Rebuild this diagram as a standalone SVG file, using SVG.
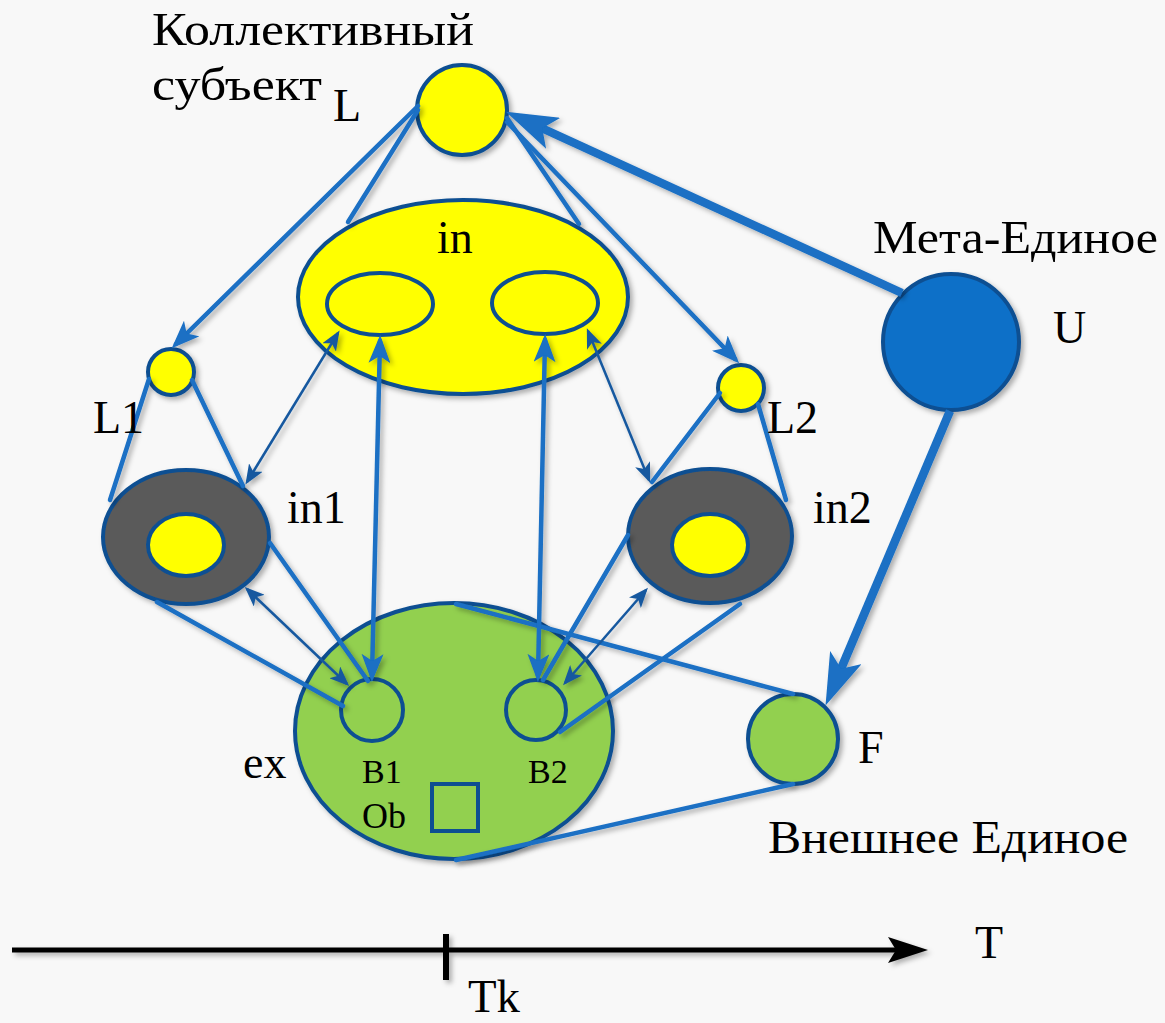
<svg xmlns="http://www.w3.org/2000/svg" width="1165" height="1023" viewBox="0 0 1165 1023">
<defs>
<filter id="sh" x="-20%" y="-20%" width="140%" height="140%">
<feDropShadow dx="3" dy="3" stdDeviation="2.5" flood-color="#000" flood-opacity="0.3"/>
</filter>
<marker id="am" markerUnits="userSpaceOnUse" markerWidth="28" markerHeight="22" refX="22" refY="11" orient="auto-start-reverse" viewBox="0 0 28 22">
<path d="M0,0 L28,11 L0,22 L7,11 z" fill="#1a6fc4"/>
</marker>
<marker id="at" markerUnits="userSpaceOnUse" markerWidth="20" markerHeight="16" refX="17" refY="8" orient="auto-start-reverse" viewBox="0 0 20 16">
<path d="M0,0 L20,8 L0,16 L5,8 z" fill="#15589f"/>
</marker>
<marker id="ak" markerUnits="userSpaceOnUse" markerWidth="52" markerHeight="34" refX="20" refY="17" orient="auto" viewBox="0 0 52 34">
<path d="M0,0 L52,17 L0,34 L12,17 z" fill="#1a6fc4"/>
</marker>
<marker id="ab" markerUnits="userSpaceOnUse" markerWidth="40" markerHeight="26" refX="30" refY="13" orient="auto" viewBox="0 0 40 26">
<path d="M0,0 L40,13 L0,26 L8,13 z" fill="#000"/>
</marker>
</defs>
<style>
.nd{stroke:#0f4f92;stroke-width:4}
.y{fill:#ffff00}
.g{fill:#92d050}
.d{fill:#5a5a5a}
.c{stroke:#1a6fc4;stroke-width:4.5;fill:none;stroke-linecap:round}
.t{stroke:#15589f;stroke-width:2.5;fill:none}
.k{stroke:#1a6fc4;stroke-width:8.5;fill:none}
.lb{font-family:"Liberation Serif","Times New Roman",serif;font-size:46px;fill:#000}
.sm{font-size:34px}
</style>
<rect width="1165" height="1023" fill="#f8f8f8"/>

<g id="node-L" filter="url(#sh)"><circle cx="462" cy="110" r="45" class="nd y"/></g>
<g id="node-in" filter="url(#sh)">
<ellipse cx="463" cy="297" rx="165" ry="97" class="nd y"/>
<ellipse cx="380" cy="304" rx="53" ry="31" class="nd y"/>
<ellipse cx="545" cy="303" rx="53" ry="31" class="nd y"/>
</g>
<g id="node-L1" filter="url(#sh)"><circle cx="171" cy="372" r="23" class="nd y"/></g>
<g id="node-L2" filter="url(#sh)"><circle cx="741" cy="388" r="23" class="nd y"/></g>
<g id="node-in1" filter="url(#sh)">
<ellipse cx="186" cy="537" rx="83" ry="67" class="nd d"/>
<ellipse cx="186" cy="545" rx="38" ry="31" class="nd y"/>
</g>
<g id="node-in2" filter="url(#sh)">
<ellipse cx="710" cy="536" rx="82" ry="67" class="nd d"/>
<ellipse cx="710" cy="545" rx="38" ry="31" class="nd y"/>
</g>
<g id="node-U" filter="url(#sh)"><circle cx="951" cy="342" r="68" fill="#1170c8" stroke="#0f4f92" stroke-width="4"/></g>
<g id="node-ex" filter="url(#sh)">
<ellipse cx="454" cy="731" rx="159" ry="128" class="nd g"/>
<circle cx="372" cy="710" r="31" class="nd g"/>
<circle cx="536" cy="710" r="30" class="nd g"/>
<rect x="432" y="784" width="46" height="47" fill="none" stroke="#0f4f92" stroke-width="4"/>
</g>
<g id="node-F" filter="url(#sh)"><circle cx="793" cy="739" r="45" class="nd g"/></g>

<g id="connectors" filter="url(#sh)">
<line x1="418" y1="106" x2="176" y2="344" class="c" marker-end="url(#am)"/>
<line x1="418" y1="110" x2="348" y2="222" class="c"/>
<line x1="507" y1="122" x2="735" y2="359" class="c" marker-end="url(#am)"/>
<line x1="507" y1="118" x2="579" y2="224" class="c"/>
<line x1="149" y1="379" x2="110" y2="500" class="c"/>
<line x1="192" y1="380" x2="243" y2="486" class="c"/>
<line x1="720" y1="393" x2="652" y2="482" class="c"/>
<line x1="758" y1="404" x2="786" y2="500" class="c"/>
<line x1="157" y1="602" x2="343" y2="706" class="c"/>
<line x1="270" y1="543" x2="368" y2="681" class="c"/>
<line x1="628" y1="535" x2="543" y2="680" class="c"/>
<line x1="740" y1="604" x2="560" y2="732" class="c"/>
<line x1="456" y1="604" x2="793" y2="694" class="c"/>
<line x1="456" y1="860" x2="793" y2="784" class="c"/>
<line x1="380" y1="341" x2="372" y2="676" class="c" marker-start="url(#am)" marker-end="url(#am)"/>
<line x1="545" y1="340" x2="538" y2="676" class="c" marker-start="url(#am)" marker-end="url(#am)"/>
<line x1="338" y1="333" x2="247" y2="482" class="t" marker-start="url(#at)" marker-end="url(#at)"/>
<line x1="588" y1="331" x2="649" y2="480" class="t" marker-start="url(#at)" marker-end="url(#at)"/>
<line x1="247" y1="589" x2="347" y2="684" class="t" marker-start="url(#at)" marker-end="url(#at)"/>
<line x1="646" y1="590" x2="565" y2="683" class="t" marker-start="url(#at)" marker-end="url(#at)"/>
<line x1="902" y1="293" x2="535" y2="125" class="k" marker-end="url(#ak)"/>
<line x1="950" y1="411" x2="838" y2="676" class="k" marker-end="url(#ak)"/>
</g>

<g id="timeline" filter="url(#sh)">
<line x1="12" y1="950" x2="918" y2="950" stroke="#000" stroke-width="5" marker-end="url(#ab)"/>
<line x1="446" y1="934" x2="446" y2="980" stroke="#000" stroke-width="6"/>
</g>

<g id="labels">
<text class="lb" x="152" y="45" textLength="322" lengthAdjust="spacingAndGlyphs">Коллективный</text>
<text class="lb" x="152" y="100" textLength="170" lengthAdjust="spacingAndGlyphs">субъект</text>
<text class="lb" x="333" y="121">L</text>
<text class="lb" x="437" y="253">in</text>
<text class="lb" x="93" y="433">L1</text>
<text class="lb" x="767" y="433">L2</text>
<text class="lb" x="287" y="523">in1</text>
<text class="lb" x="813" y="523">in2</text>
<text class="lb" x="873" y="253" textLength="285" lengthAdjust="spacingAndGlyphs">Мета-Единое</text>
<text class="lb" x="1053" y="343">U</text>
<text class="lb" x="243" y="778">ex</text>
<text class="lb sm" x="362" y="783">B1</text>
<text class="lb sm" x="528" y="783">B2</text>
<text class="lb" x="362" y="828" style="font-size:36px">Ob</text>
<text class="lb" x="858" y="763">F</text>
<text class="lb" x="768" y="853" textLength="360" lengthAdjust="spacingAndGlyphs">Внешнее Единое</text>
<text class="lb" x="975" y="958">T</text>
<text class="lb" x="468" y="1012" textLength="52" lengthAdjust="spacingAndGlyphs">Tk</text>
</g>
</svg>
